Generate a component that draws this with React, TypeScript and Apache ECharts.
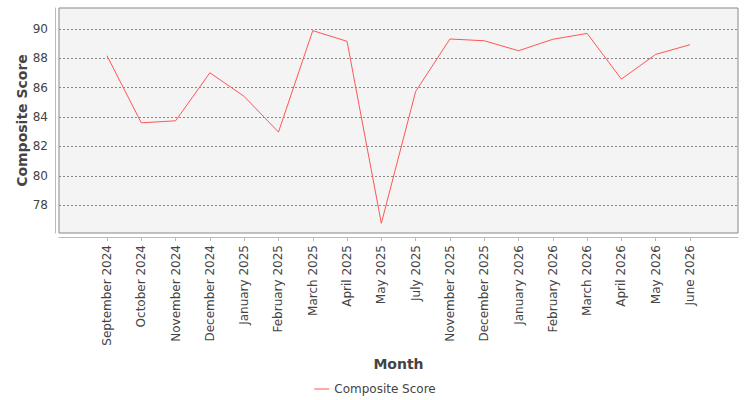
import React, { useEffect, useRef } from "react";
import * as echarts from "echarts";

const months = [
  "September 2024",
  "October 2024",
  "November 2024",
  "December 2024",
  "January 2025",
  "February 2025",
  "March 2025",
  "April 2025",
  "May 2025",
  "July 2025",
  "November 2025",
  "December 2025",
  "January 2026",
  "February 2026",
  "March 2026",
  "April 2026",
  "May 2026",
  "June 2026",
];

const scores = [
  88.18, 83.61, 83.75, 87.02, 85.41, 82.98, 89.89, 89.16, 76.77, 85.75,
  89.32, 89.2, 88.52, 89.3, 89.7, 86.59, 88.27, 88.93,
];

const yTicks = [78, 80, 82, 84, 86, 88, 90];

const seriesName = "Composite Score";
const xName = "Month";
const yName = "Composite Score";

const FONT = "DejaVu Sans";

export default function App() {
  const ref = useRef<HTMLDivElement>(null);

  useEffect(() => {
    document.body.style.margin = "0";
    const chart = echarts.init(ref.current!, null, { renderer: "svg" });
    const xIdx = months.map((_, i) => i);
    chart.setOption({
      animation: false,
      backgroundColor: "#ffffff",
      textStyle: { fontFamily: FONT },
      grid: {
        left: 59,
        top: 8,
        right: 12,
        bottom: 167,
        show: true,
        backgroundColor: "#f4f4f4",
        borderColor: "#888888",
        borderWidth: 1,
        containLabel: false,
      },
      legend: {
        data: [{ name: seriesName, icon: "rect" }],
        left: "center",
        top: 378,
        itemWidth: 15,
        itemHeight: 1,
        itemGap: 10,
        itemStyle: { color: "#ff5555" },
        textStyle: { fontFamily: FONT, fontSize: 12, color: "#444444" },
      },
      xAxis: {
        type: "value",
        min: -1.4,
        max: months.length - 1 + 1.4,
        offset: 4,
        name: xName,
        nameLocation: "middle",
        nameGap: 120,
        nameMoveOverlap: false,
        nameTextStyle: { fontFamily: FONT, fontSize: 14, fontWeight: "bold", color: "#444444" },
        axisLine: { show: true, onZero: false, lineStyle: { color: "#bbbbbb", width: 1 } },
        axisTick: { show: true, length: 4, customValues: xIdx, lineStyle: { color: "#bbbbbb" } },
        axisLabel: {
          customValues: xIdx,
          rotate: 90,
          margin: 8,
          fontFamily: FONT,
          fontSize: 12,
          color: "#444444",
          formatter: (v: number) => months[Math.round(v)] ?? "",
        },
        splitLine: { show: false },
      },
      yAxis: {
        type: "value",
        min: 76.11,
        max: 91.43,
        offset: 4,
        name: yName,
        nameLocation: "middle",
        nameGap: 26,
        nameMoveOverlap: false,
        nameTextStyle: { fontFamily: FONT, fontSize: 14, fontWeight: "bold", color: "#444444" },
        axisLine: { show: true, onZero: false, lineStyle: { color: "#bbbbbb", width: 1 } },
        axisTick: { show: false, customValues: yTicks },
        axisLabel: {
          customValues: yTicks,
          margin: 7,
          fontFamily: FONT,
          fontSize: 12,
          color: "#444444",
        },
        splitLine: {
          show: true,
          lineStyle: { color: "#888888", width: 1, type: [2, 2] },
        },
      },
      series: [
        {
          name: seriesName,
          type: "line",
          data: scores.map((v, i) => [i, v]),
          symbol: "none",
          showSymbol: false,
          lineStyle: { color: "#ff5555", width: 1 },
          itemStyle: { color: "#ff5555" },
        },
      ],
    });
    return () => chart.dispose();
  }, []);

  return (
    <div
      ref={ref}
      style={{ width: 750, height: 400, position: "absolute", left: 0, top: 0 }}
    />
  );
}
